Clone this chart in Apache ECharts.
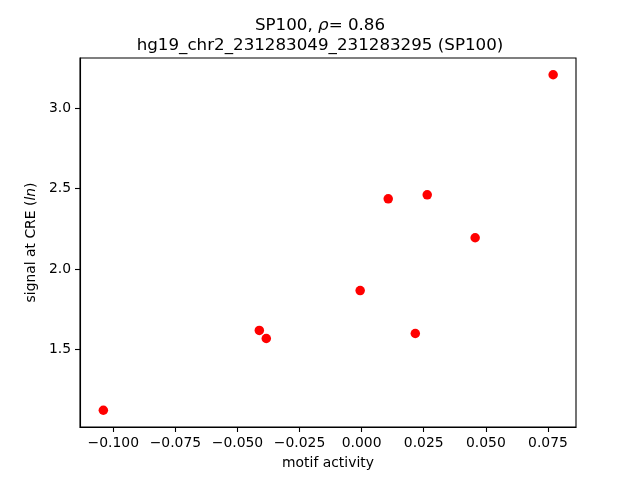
<!DOCTYPE html>
<html>
<head>
<meta charset="utf-8">
<script src="https://cdn.jsdelivr.net/npm/echarts@6/dist/echarts.min.js"></script>
<style>html,body{margin:0;padding:0;background:#fff}#c{width:640px;height:480px}</style>
</head>
<body>
<div id="c"></div>
<script>
var motifActivity = [-0.1040, -0.0412, -0.0384, -0.0006, 0.0107, 0.0216, 0.0264, 0.0457, 0.0771];
var signalAtCRE = [1.122, 1.618, 1.568, 1.866, 2.436, 1.599, 2.461, 2.194, 3.207];
var xTicks = [-0.100, -0.075, -0.050, -0.025, 0.000, 0.025, 0.050, 0.075];
var yTicks = [1.5, 2.0, 2.5, 3.0];
var xRange = [-0.1134, 0.0863];
var yRange = [1.018, 3.311];

var points = motifActivity.map(function (x, i) { return [x, signalAtCRE[i]]; });
var font = 'DejaVu Sans';
function fmtX(v) { var s = Math.abs(v).toFixed(3); return (v < -1e-9 ? '\u2212' : '') + s; }

var chart = echarts.init(document.getElementById('c'), null, { renderer: 'canvas' });
chart.setOption({
  animation: false,
  backgroundColor: '#fff',
  title: {
    left: 'center',
    top: 11,
    text: '{a|SP100, }{i|\u03c1}{a|= 0.86}\n{a|hg19_chr2_231283049_231283295 (SP100)}',
    textStyle: {
      fontWeight: 'normal',
      rich: {
        a: { fontFamily: font, fontSize: 16.7, fontWeight: 'normal', color: '#000', lineHeight: 19.5 },
        i: { fontFamily: font, fontSize: 16.7, fontWeight: 'normal', color: '#000', fontStyle: 'italic', lineHeight: 19.5 }
      }
    }
  },
  grid: { left: 80, right: 64, top: 58, bottom: 53, show: true, borderColor: '#000', borderWidth: 1.1, backgroundColor: '#fff' },
  xAxis: {
    type: 'value', min: xRange[0], max: xRange[1],
    splitLine: { show: false },
    axisLine: { show: true, onZero: false, lineStyle: { color: '#000', width: 1.1 } },
    axisTick: { show: true, inside: false, length: 5, customValues: xTicks, lineStyle: { color: '#000', width: 1.1 } },
    axisLabel: { customValues: xTicks, formatter: fmtX, fontFamily: font, fontSize: 13.9, color: '#000', margin: 9 },
    name: 'motif activity', nameLocation: 'middle', nameGap: 29,
    nameTextStyle: { fontFamily: font, fontSize: 13.9, color: '#000' }
  },
  yAxis: {
    type: 'value', min: yRange[0], max: yRange[1],
    splitLine: { show: false },
    axisLine: { show: true, onZero: false, lineStyle: { color: '#000', width: 1.1 } },
    axisTick: { show: true, inside: false, length: 5, customValues: yTicks, lineStyle: { color: '#000', width: 1.1 } },
    axisLabel: { customValues: yTicks, formatter: function (v) { return v.toFixed(1); }, fontFamily: font, fontSize: 13.9, color: '#000', margin: 9 },
    name: '{a|signal at CRE (}{i|ln}{a|)}', nameLocation: 'middle', nameGap: 40, nameRotate: 90,
    nameTextStyle: {
      rich: {
        a: { fontFamily: font, fontSize: 13.9, color: '#000' },
        i: { fontFamily: font, fontSize: 13.9, color: '#000', fontStyle: 'italic' }
      }
    }
  },
  series: [{
    type: 'scatter',
    data: points,
    symbol: 'circle',
    symbolSize: 9.5,
    itemStyle: { color: '#ff0000', opacity: 1 }
  }]
});
</script>
</body>
</html>
